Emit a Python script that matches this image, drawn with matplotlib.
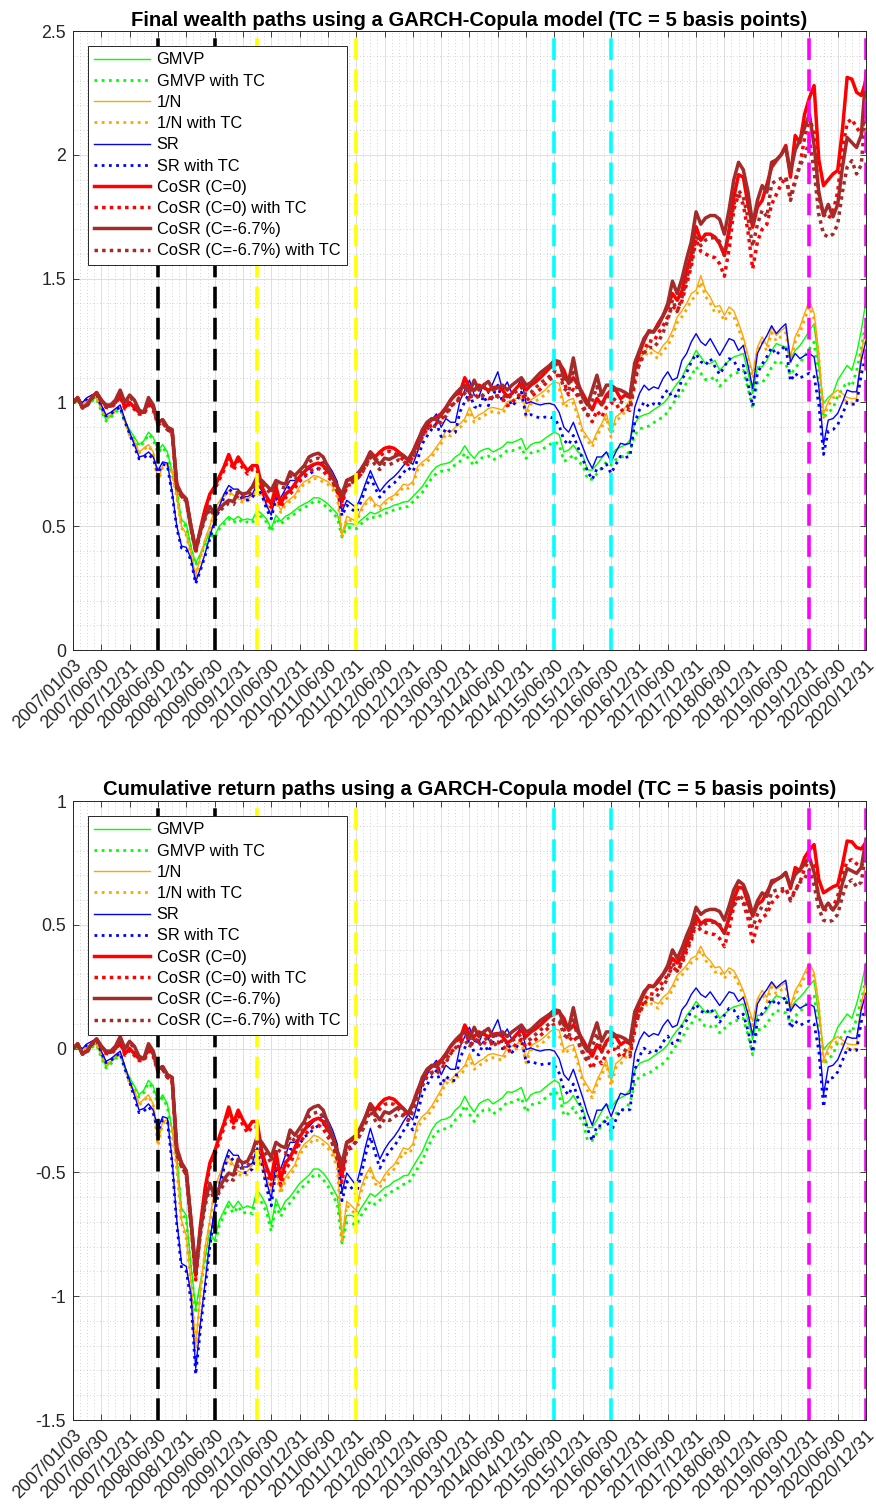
import matplotlib
matplotlib.use("Agg")
import matplotlib.pyplot as plt
from matplotlib.ticker import FixedLocator, MultipleLocator, FuncFormatter
import numpy as np

plt.rcParams['font.family'] = ['Liberation Sans', 'DejaVu Sans']

# half-yearly tick labels, one data point per month (169 months)
tick_labels = [
    '2007/01/03', '2007/06/30', '2007/12/31', '2008/06/30', '2008/12/31',
    '2009/06/30', '2009/12/31', '2010/06/30', '2010/12/31', '2011/06/30',
    '2011/12/31', '2012/06/30', '2012/12/31', '2013/06/30', '2013/12/31',
    '2014/06/30', '2014/12/31', '2015/06/30', '2015/12/31', '2016/06/30',
    '2016/12/31', '2017/06/30', '2017/12/31', '2018/06/30', '2018/12/31',
    '2019/06/30', '2019/12/31', '2020/06/30', '2020/12/31']

# final wealth, monthly
gmvp = [
    1.00, 1.00, 0.985, 1.00, 1.01, 1.02, 0.97, 0.93, 0.945, 0.965, 0.98, 0.925,
    0.89, 0.86, 0.83, 0.845, 0.88, 0.86, 0.805, 0.83, 0.80, 0.72, 0.645, 0.525,
    0.51, 0.417, 0.35, 0.39, 0.43, 0.48, 0.46, 0.50, 0.52, 0.54, 0.525, 0.54,
    0.525, 0.53, 0.525, 0.565, 0.55, 0.53, 0.49, 0.545, 0.52, 0.54, 0.55, 0.565,
    0.58, 0.59, 0.60, 0.615, 0.615, 0.605, 0.59, 0.57, 0.55, 0.47, 0.51, 0.51,
    0.505, 0.525, 0.54, 0.557, 0.55, 0.56, 0.57, 0.575, 0.585, 0.59, 0.598, 0.60,
    0.62, 0.64, 0.66, 0.69, 0.72, 0.74, 0.75, 0.753, 0.76, 0.78, 0.793, 0.825,
    0.795, 0.774, 0.80, 0.81, 0.815, 0.80, 0.81, 0.82, 0.84, 0.838, 0.845, 0.855,
    0.808, 0.83, 0.838, 0.84, 0.855, 0.868, 0.88, 0.87, 0.80, 0.808, 0.828, 0.80,
    0.787, 0.727, 0.727, 0.75, 0.775, 0.80, 0.787, 0.81, 0.82, 0.828, 0.848, 0.915,
    0.942, 0.95, 0.956, 0.97, 0.983, 0.996, 1.016, 1.05, 1.077, 1.10, 1.144, 1.17,
    1.21, 1.184, 1.157, 1.157, 1.17, 1.13, 1.15, 1.17, 1.184, 1.19, 1.198, 1.12,
    1.036, 1.144, 1.144, 1.17, 1.21, 1.238, 1.23, 1.224, 1.177, 1.21, 1.23, 1.258,
    1.29, 1.318, 1.144, 0.996, 1.02, 1.036, 1.09, 1.12, 1.15, 1.13, 1.198, 1.29,
    1.413]
gmvp_tc = [
    1.00, 0.998, 0.982, 0.997, 1.006, 1.015, 0.965, 0.925, 0.94, 0.96, 0.974, 0.918,
    0.883, 0.853, 0.822, 0.837, 0.871, 0.851, 0.796, 0.82, 0.79, 0.71, 0.635, 0.516,
    0.50, 0.41, 0.343, 0.382, 0.421, 0.47, 0.45, 0.49, 0.51, 0.53, 0.514, 0.529,
    0.514, 0.518, 0.513, 0.553, 0.537, 0.517, 0.478, 0.532, 0.507, 0.527, 0.536, 0.551,
    0.566, 0.575, 0.585, 0.60, 0.60, 0.589, 0.574, 0.554, 0.534, 0.456, 0.495, 0.495,
    0.49, 0.509, 0.523, 0.54, 0.533, 0.542, 0.552, 0.556, 0.566, 0.57, 0.578, 0.58,
    0.598, 0.617, 0.636, 0.665, 0.694, 0.713, 0.722, 0.724, 0.73, 0.75, 0.762, 0.795,
    0.767, 0.745, 0.77, 0.78, 0.784, 0.768, 0.778, 0.788, 0.807, 0.805, 0.811, 0.82,
    0.774, 0.796, 0.803, 0.804, 0.818, 0.83, 0.841, 0.83, 0.763, 0.77, 0.789, 0.761,
    0.748, 0.69, 0.69, 0.712, 0.736, 0.76, 0.747, 0.769, 0.778, 0.785, 0.804, 0.868,
    0.893, 0.90, 0.905, 0.918, 0.93, 0.942, 0.961, 0.993, 1.018, 1.04, 1.082, 1.106,
    1.144, 1.118, 1.092, 1.092, 1.104, 1.066, 1.085, 1.104, 1.117, 1.122, 1.13, 1.056,
    0.975, 1.08, 1.08, 1.104, 1.142, 1.168, 1.16, 1.155, 1.11, 1.141, 1.16, 1.187,
    1.217, 1.244, 1.078, 0.938, 0.96, 0.975, 1.026, 1.055, 1.083, 1.065, 1.128, 1.215,
    1.33]
equal_w = [
    1.00, 1.005, 0.99, 1.01, 1.02, 1.02, 0.98, 0.94, 0.95, 0.97, 0.98, 0.93,
    0.87, 0.845, 0.80, 0.815, 0.83, 0.80, 0.685, 0.745, 0.75, 0.725, 0.62, 0.50,
    0.47, 0.39, 0.30, 0.377, 0.45, 0.50, 0.57, 0.60, 0.63, 0.645, 0.625, 0.61,
    0.605, 0.61, 0.625, 0.645, 0.63, 0.59, 0.57, 0.61, 0.565, 0.595, 0.61, 0.625,
    0.66, 0.68, 0.69, 0.705, 0.70, 0.69, 0.68, 0.66, 0.63, 0.464, 0.54, 0.53,
    0.52, 0.57, 0.60, 0.62, 0.59, 0.58, 0.60, 0.615, 0.625, 0.645, 0.67, 0.665,
    0.68, 0.74, 0.76, 0.773, 0.793, 0.82, 0.847, 0.887, 0.88, 0.90, 0.914, 0.934,
    0.98, 0.935, 0.95, 0.96, 0.976, 0.98, 0.975, 0.97, 1.003, 1.01, 1.016, 1.043,
    0.96, 1.01, 1.023, 1.035, 1.05, 1.07, 1.083, 1.077, 0.996, 1.01, 1.016, 0.956,
    0.888, 0.86, 0.835, 0.88, 0.915, 0.956, 0.875, 0.942, 0.956, 0.98, 1.01, 1.13,
    1.177, 1.20, 1.23, 1.21, 1.198, 1.23, 1.25, 1.29, 1.345, 1.37, 1.40, 1.44,
    1.453, 1.513, 1.453, 1.426, 1.386, 1.392, 1.352, 1.386, 1.37, 1.32, 1.265, 1.19,
    1.117, 1.224, 1.265, 1.23, 1.305, 1.27, 1.29, 1.305, 1.184, 1.265, 1.305, 1.36,
    1.413, 1.36, 1.20, 0.956, 1.003, 1.036, 1.05, 1.036, 1.02, 1.016, 1.016, 1.20,
    1.305]
equal_w_tc = [
    1.00, 1.004, 0.988, 1.008, 1.018, 1.018, 0.978, 0.938, 0.947, 0.967, 0.977, 0.927,
    0.866, 0.841, 0.796, 0.81, 0.825, 0.795, 0.675, 0.74, 0.744, 0.718, 0.613, 0.494,
    0.464, 0.385, 0.296, 0.372, 0.444, 0.494, 0.563, 0.593, 0.622, 0.637, 0.617, 0.602,
    0.597, 0.602, 0.617, 0.636, 0.621, 0.581, 0.561, 0.601, 0.556, 0.586, 0.60, 0.615,
    0.65, 0.67, 0.679, 0.694, 0.689, 0.679, 0.669, 0.649, 0.619, 0.455, 0.531, 0.521,
    0.511, 0.56, 0.59, 0.61, 0.58, 0.57, 0.589, 0.604, 0.614, 0.634, 0.658, 0.653,
    0.668, 0.727, 0.747, 0.76, 0.78, 0.806, 0.833, 0.872, 0.865, 0.885, 0.899, 0.918,
    0.964, 0.92, 0.934, 0.944, 0.96, 0.964, 0.959, 0.954, 0.986, 0.993, 0.999, 1.025,
    0.944, 0.993, 1.006, 1.017, 1.032, 1.052, 1.064, 1.058, 0.979, 0.993, 0.998, 0.94,
    0.873, 0.845, 0.82, 0.865, 0.899, 0.94, 0.86, 0.926, 0.94, 0.963, 0.993, 1.11,
    1.157, 1.18, 1.209, 1.189, 1.177, 1.209, 1.228, 1.268, 1.322, 1.346, 1.376, 1.415,
    1.428, 1.487, 1.428, 1.401, 1.362, 1.368, 1.328, 1.362, 1.346, 1.297, 1.243, 1.17,
    1.097, 1.203, 1.243, 1.208, 1.282, 1.248, 1.267, 1.282, 1.163, 1.243, 1.282, 1.336,
    1.388, 1.336, 1.179, 0.939, 0.985, 1.018, 1.031, 1.018, 1.002, 0.998, 0.998, 1.179,
    1.282]
sharpe = [
    1.00, 1.01, 1.00, 1.02, 1.03, 1.04, 0.99, 0.95, 0.96, 0.975, 0.99, 0.93,
    0.88, 0.83, 0.78, 0.785, 0.80, 0.78, 0.725, 0.76, 0.755, 0.64, 0.50, 0.42,
    0.415, 0.37, 0.275, 0.33, 0.39, 0.46, 0.525, 0.58, 0.63, 0.665, 0.65, 0.65,
    0.62, 0.62, 0.63, 0.67, 0.645, 0.585, 0.545, 0.63, 0.615, 0.65, 0.685, 0.685,
    0.70, 0.72, 0.73, 0.745, 0.755, 0.76, 0.75, 0.72, 0.68, 0.56, 0.605, 0.59,
    0.575, 0.62, 0.675, 0.725, 0.68, 0.64, 0.665, 0.685, 0.70, 0.72, 0.745, 0.766,
    0.75, 0.80, 0.867, 0.90, 0.93, 0.954, 0.90, 0.935, 0.92, 0.92, 1.008, 1.05,
    1.09, 1.03, 1.023, 1.077, 1.036, 1.08, 1.124, 1.05, 1.083, 1.036, 1.06, 1.097,
    0.996, 1.003, 0.995, 0.99, 0.995, 0.996, 0.99, 0.96, 0.90, 0.88, 0.92, 0.868,
    0.82, 0.77, 0.734, 0.78, 0.78, 0.80, 0.76, 0.80, 0.835, 0.83, 0.835, 0.98,
    1.036, 1.07, 1.05, 1.063, 1.056, 1.097, 1.124, 1.09, 1.10, 1.17, 1.198, 1.245,
    1.278, 1.245, 1.23, 1.258, 1.224, 1.19, 1.224, 1.258, 1.25, 1.21, 1.23, 1.15,
    1.056, 1.198, 1.238, 1.27, 1.31, 1.278, 1.30, 1.318, 1.164, 1.198, 1.177, 1.19,
    1.198, 1.184, 1.063, 0.83, 0.929, 0.935, 0.956, 1.00, 1.05, 1.043, 1.043, 1.17,
    1.25]
sharpe_tc = [
    1.00, 1.008, 0.997, 1.016, 1.026, 1.035, 0.985, 0.945, 0.954, 0.969, 0.983, 0.923,
    0.873, 0.823, 0.772, 0.777, 0.791, 0.771, 0.716, 0.75, 0.745, 0.63, 0.49, 0.412,
    0.407, 0.362, 0.268, 0.322, 0.381, 0.45, 0.514, 0.568, 0.617, 0.651, 0.636, 0.636,
    0.606, 0.606, 0.615, 0.654, 0.629, 0.57, 0.53, 0.613, 0.598, 0.632, 0.666, 0.666,
    0.68, 0.70, 0.709, 0.723, 0.733, 0.737, 0.727, 0.698, 0.659, 0.541, 0.585, 0.57,
    0.555, 0.598, 0.652, 0.70, 0.656, 0.617, 0.641, 0.66, 0.674, 0.693, 0.717, 0.737,
    0.72, 0.768, 0.833, 0.864, 0.892, 0.915, 0.862, 0.895, 0.88, 0.879, 0.963, 1.003,
    1.04, 0.983, 0.975, 1.027, 0.987, 1.028, 1.07, 0.999, 1.03, 0.985, 1.007, 1.042,
    0.945, 0.951, 0.943, 0.937, 0.941, 0.941, 0.935, 0.906, 0.848, 0.829, 0.867, 0.817,
    0.771, 0.723, 0.689, 0.733, 0.732, 0.751, 0.713, 0.75, 0.783, 0.778, 0.782, 0.918,
    0.97, 1.002, 0.983, 0.995, 0.988, 1.027, 1.052, 1.02, 1.029, 1.095, 1.121, 1.165,
    1.196, 1.165, 1.151, 1.177, 1.145, 1.113, 1.145, 1.177, 1.169, 1.132, 1.15, 1.075,
    0.985, 1.118, 1.155, 1.185, 1.222, 1.192, 1.213, 1.23, 1.086, 1.118, 1.098, 1.11,
    1.118, 1.105, 0.992, 0.79, 0.884, 0.89, 0.91, 0.952, 1.00, 0.993, 0.993, 1.114,
    1.19]
cosr_0 = [
    1.00, 1.02, 0.98, 0.99, 1.02, 1.04, 1.01, 0.985, 0.985, 1.00, 1.03, 0.98,
    1.00, 0.98, 0.96, 0.96, 1.00, 0.98, 0.92, 0.93, 0.90, 0.89, 0.67, 0.63,
    0.61, 0.50, 0.40, 0.49, 0.57, 0.63, 0.66, 0.70, 0.74, 0.79, 0.74, 0.78,
    0.75, 0.725, 0.745, 0.745, 0.66, 0.62, 0.59, 0.66, 0.59, 0.63, 0.645, 0.67,
    0.70, 0.72, 0.74, 0.75, 0.755, 0.745, 0.72, 0.70, 0.66, 0.60, 0.685, 0.69,
    0.705, 0.725, 0.76, 0.80, 0.78, 0.80, 0.815, 0.82, 0.815, 0.80, 0.785, 0.766,
    0.80, 0.845, 0.88, 0.914, 0.93, 0.94, 0.955, 0.98, 1.01, 1.03, 1.04, 1.10,
    1.06, 1.05, 1.07, 1.06, 1.05, 1.06, 1.063, 1.05, 1.023, 1.036, 1.06, 1.077,
    1.05, 1.07, 1.083, 1.10, 1.12, 1.14, 1.15, 1.16, 1.13, 1.077, 1.10, 1.07,
    1.036, 1.00, 0.97, 1.016, 0.99, 1.03, 1.05, 1.05, 1.016, 1.03, 1.02, 1.13,
    1.20, 1.25, 1.29, 1.285, 1.32, 1.35, 1.386, 1.44, 1.413, 1.45, 1.53, 1.60,
    1.71, 1.655, 1.68, 1.68, 1.668, 1.64, 1.594, 1.70, 1.83, 1.92, 1.91, 1.80,
    1.708, 1.79, 1.816, 1.88, 1.95, 1.977, 2.00, 2.038, 1.91, 2.078, 2.05, 2.165,
    2.23, 2.28, 1.98, 1.876, 1.90, 1.923, 1.937, 2.10, 2.313, 2.306, 2.253, 2.24,
    2.30]
cosr_0_tc = [
    1.00, 1.018, 0.978, 0.987, 1.017, 1.036, 1.006, 0.98, 0.98, 0.995, 1.024, 0.974,
    0.993, 0.973, 0.953, 0.952, 0.99, 0.97, 0.91, 0.92, 0.89, 0.879, 0.66, 0.621,
    0.601, 0.492, 0.393, 0.482, 0.56, 0.62, 0.649, 0.688, 0.727, 0.776, 0.726, 0.765,
    0.735, 0.711, 0.73, 0.729, 0.645, 0.606, 0.577, 0.644, 0.576, 0.615, 0.63, 0.654,
    0.683, 0.702, 0.721, 0.73, 0.734, 0.724, 0.70, 0.68, 0.641, 0.582, 0.665, 0.669,
    0.69, 0.71, 0.745, 0.784, 0.764, 0.784, 0.798, 0.803, 0.798, 0.783, 0.768, 0.749,
    0.782, 0.826, 0.86, 0.893, 0.908, 0.917, 0.931, 0.955, 0.984, 1.003, 1.012, 1.07,
    1.025, 1.016, 1.035, 1.025, 1.015, 1.024, 1.027, 1.013, 0.987, 0.999, 1.022, 1.038,
    1.006, 1.025, 1.037, 1.054, 1.074, 1.093, 1.103, 1.112, 1.083, 1.031, 1.053, 1.023,
    0.988, 0.952, 0.922, 0.967, 0.941, 0.98, 0.998, 0.997, 0.964, 0.978, 0.968, 1.075,
    1.165, 1.21, 1.25, 1.245, 1.28, 1.31, 1.345, 1.39, 1.37, 1.41, 1.48, 1.55,
    1.66, 1.61, 1.60, 1.59, 1.585, 1.56, 1.51, 1.62, 1.78, 1.84, 1.80, 1.69,
    1.54, 1.65, 1.70, 1.72, 1.80, 1.84, 1.88, 1.91, 1.83, 1.90, 1.96, 2.07,
    2.15, 2.09, 1.83, 1.76, 1.742, 1.77, 1.85, 2.02, 2.13, 2.145, 2.11, 2.085,
    2.18]
cosr_67 = [
    1.00, 1.02, 0.98, 0.99, 1.02, 1.04, 1.01, 0.99, 0.99, 1.01, 1.05, 1.00,
    1.03, 1.01, 0.97, 0.96, 1.02, 0.99, 0.92, 0.93, 0.90, 0.89, 0.66, 0.63,
    0.61, 0.50, 0.41, 0.48, 0.54, 0.58, 0.55, 0.57, 0.59, 0.605, 0.60, 0.64,
    0.63, 0.635, 0.66, 0.70, 0.685, 0.665, 0.645, 0.685, 0.675, 0.67, 0.72, 0.705,
    0.725, 0.745, 0.78, 0.79, 0.795, 0.78, 0.74, 0.70, 0.66, 0.63, 0.685, 0.695,
    0.705, 0.73, 0.76, 0.80, 0.77, 0.75, 0.775, 0.77, 0.78, 0.79, 0.785, 0.77,
    0.80, 0.84, 0.89, 0.92, 0.935, 0.93, 0.95, 0.975, 1.01, 1.035, 1.055, 1.07,
    1.04, 1.09, 1.05, 1.07, 1.085, 1.05, 1.06, 1.07, 1.05, 1.07, 1.085, 1.10,
    1.07, 1.08, 1.10, 1.12, 1.135, 1.15, 1.17, 1.165, 1.10, 1.085, 1.18, 1.08,
    1.02, 0.99, 1.05, 1.11, 1.03, 1.07, 1.07, 1.055, 1.05, 1.04, 1.025, 1.16,
    1.21, 1.26, 1.285, 1.285, 1.31, 1.35, 1.40, 1.49, 1.44, 1.50, 1.58, 1.65,
    1.77, 1.72, 1.745, 1.755, 1.755, 1.74, 1.68, 1.78, 1.90, 1.97, 1.94, 1.85,
    1.72, 1.816, 1.876, 1.85, 1.97, 1.98, 2.00, 2.03, 1.93, 2.02, 2.06, 2.11,
    2.165, 2.04, 1.85, 1.755, 1.80, 1.75, 1.80, 1.95, 2.07, 2.05, 2.03, 2.08,
    2.33]
cosr_67_tc = [
    1.00, 1.018, 0.978, 0.987, 1.017, 1.036, 1.006, 0.985, 0.985, 1.005, 1.044, 0.994,
    1.023, 1.003, 0.963, 0.952, 1.011, 0.981, 0.911, 0.92, 0.89, 0.879, 0.651, 0.621,
    0.601, 0.492, 0.403, 0.472, 0.531, 0.57, 0.54, 0.56, 0.579, 0.593, 0.588, 0.627,
    0.617, 0.622, 0.646, 0.685, 0.67, 0.65, 0.63, 0.669, 0.659, 0.654, 0.703, 0.688,
    0.707, 0.726, 0.76, 0.77, 0.775, 0.76, 0.72, 0.681, 0.642, 0.612, 0.666, 0.676,
    0.686, 0.71, 0.739, 0.778, 0.749, 0.729, 0.753, 0.748, 0.758, 0.768, 0.762, 0.748,
    0.776, 0.815, 0.864, 0.893, 0.907, 0.902, 0.921, 0.945, 0.979, 1.003, 1.022, 1.037,
    1.005, 1.053, 1.014, 1.033, 1.048, 1.013, 1.023, 1.032, 1.013, 1.032, 1.046, 1.061,
    1.03, 1.04, 1.059, 1.078, 1.092, 1.106, 1.125, 1.12, 1.057, 1.042, 1.134, 1.037,
    0.978, 0.949, 1.006, 1.064, 0.986, 1.024, 1.023, 1.008, 1.003, 0.993, 0.978, 1.108,
    1.153, 1.20, 1.222, 1.221, 1.244, 1.282, 1.33, 1.415, 1.367, 1.424, 1.50, 1.567,
    1.68, 1.633, 1.656, 1.665, 1.665, 1.65, 1.594, 1.69, 1.80, 1.856, 1.83, 1.745,
    1.63, 1.72, 1.776, 1.75, 1.883, 1.897, 1.905, 1.91, 1.816, 1.89, 1.957, 1.99,
    2.06, 1.937, 1.76, 1.68, 1.668, 1.68, 1.72, 1.85, 1.95, 1.977, 1.923, 1.96,
    2.205]

# crisis windows marked with vertical lines (month index)
event_months = [18, 30, 39, 60, 102, 114, 156, 168]
event_colors = ['black', 'black', 'yellow', 'yellow', 'cyan', 'cyan', 'magenta', 'magenta']

series = [
    ('GMVP', gmvp, '#00ff00', 1.0, False),
    ('GMVP with TC', gmvp_tc, '#00ff00', 2.0, True),
    ('1/N', equal_w, '#ffa500', 1.0, False),
    ('1/N with TC', equal_w_tc, '#ffa500', 2.0, True),
    ('SR', sharpe, '#0000ff', 1.0, False),
    ('SR with TC', sharpe_tc, '#0000ff', 2.0, True),
    ('CoSR (C=0)', cosr_0, '#ff0000', 2.5, False),
    ('CoSR (C=0) with TC', cosr_0_tc, '#ff0000', 2.5, True),
    ('CoSR (C=-6.7%)', cosr_67, '#a52a2a', 2.5, False),
    ('CoSR (C=-6.7%) with TC', cosr_67_tc, '#a52a2a', 2.5, True),
]

months = np.arange(len(gmvp))
tick_pos = np.arange(0, len(gmvp), 6)


def draw_panel(ax, log_scale, title, ylim, ystep):
    for label, vals, color, lw, dotted in series:
        y = np.log(vals) if log_scale else np.asarray(vals)
        ls = (0, (1.0, 1.6)) if dotted else '-'
        if dotted and lw > 2.2:
            ls = (0, (1.0, 1.2))
        ax.plot(months, y, color=color, lw=lw, linestyle=ls,
                dash_capstyle='butt', label=label)
    for m, c in zip(event_months, event_colors):
        ax.axvline(m, color=c, lw=2.6, linestyle=(0, (6, 2.6)), zorder=6)

    ax.set_xlim(0, months[-1])
    ax.set_ylim(*ylim)
    ax.xaxis.set_major_locator(FixedLocator(tick_pos))
    ax.set_xticklabels(tick_labels, rotation=45, ha='right',
                       rotation_mode='anchor', fontsize=12.8)
    ax.xaxis.set_minor_locator(MultipleLocator(1.5))
    ax.yaxis.set_major_locator(MultipleLocator(ystep))
    ax.yaxis.set_minor_locator(MultipleLocator(0.1))
    ax.yaxis.set_major_formatter(FuncFormatter(lambda v, p: '%g' % round(v, 2)))
    ax.tick_params(which='major', direction='in', length=4, width=0.6,
                   top=True, right=True, labelsize=12.8, colors='#262626')
    ax.tick_params(axis='y', pad=5)
    ax.tick_params(axis='x', pad=5)
    ax.tick_params(which='minor', length=0)
    ax.grid(which='major', color='#dedede', lw=0.7)
    ax.grid(which='minor', color='#c4c4c4', lw=0.6, linestyle=(0, (1, 3)))
    ax.set_axisbelow(True)
    for sp in ax.spines.values():
        sp.set_color('#262626')
        sp.set_linewidth(0.7)
    ax.set_title(title, fontsize=14.6, fontweight='bold', pad=4)
    leg = ax.legend(loc='upper left', fontsize=11.8, handlelength=3.4,
                    handletextpad=0.4, labelspacing=0.38, borderpad=0.4,
                    borderaxespad=0.9, fancybox=False, framealpha=1.0,
                    edgecolor='#262626')
    leg.get_frame().set_linewidth(0.7)
    leg.set_zorder(10)


fig = plt.figure(figsize=(8.76, 15.10), dpi=100)
ax1 = fig.add_axes([0.0833, 0.5695, 0.9053, 0.4099])
ax2 = fig.add_axes([0.0833, 0.0596, 0.9053, 0.4099])

draw_panel(ax1, False,
           'Final wealth paths using a GARCH-Copula model (TC = 5 basis points)',
           (0, 2.5), 0.5)
draw_panel(ax2, True,
           'Cumulative return paths using a GARCH-Copula model (TC = 5 basis points)',
           (-1.5, 1), 0.5)

fig.savefig('out.png', dpi=100)
